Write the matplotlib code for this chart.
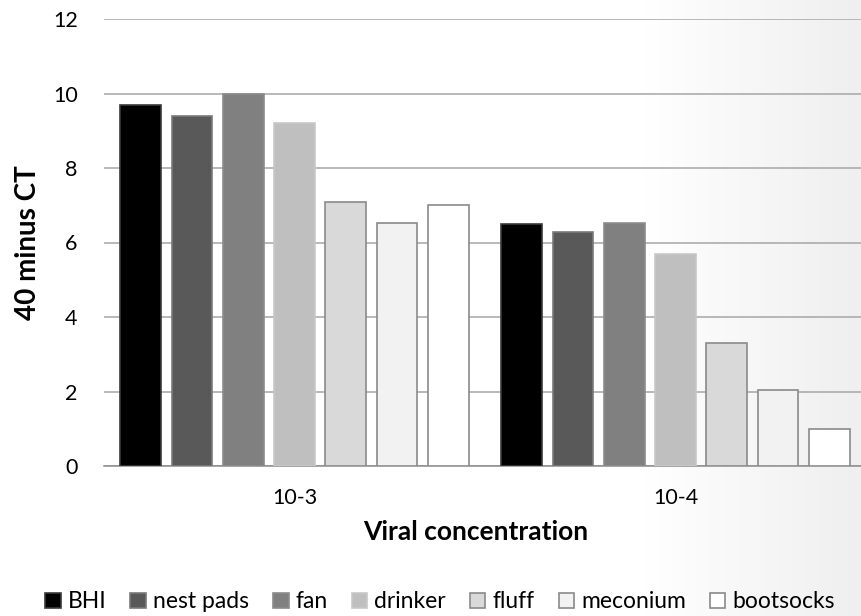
import numpy as np
import matplotlib
matplotlib.use("Agg")
import matplotlib.pyplot as plt

categories = ["10-3", "10-4"]
samples = ["BHI", "nest pads", "fan", "drinker", "fluff", "meconium", "bootsocks"]
bhi = [9.7, 6.5]
nest_pads = [9.4, 6.27]
fan = [10.0, 6.53]
drinker = [9.2, 5.7]
fluff = [7.1, 3.3]
meconium = [6.52, 2.05]
bootsocks = [7.02, 1.0]
series = [bhi, nest_pads, fan, drinker, fluff, meconium, bootsocks]

fills = ["#000000", "#595959", "#808080", "#bfbfbf", "#d9d9d9", "#f2f2f2", "#ffffff"]
edges = ["#3a3a3a", "#7a7a7a", "#8c8c8c", "#c8c8c8", "#8a8a8a", "#8a8a8a", "#8a8a8a"]

plt.rcParams["font.family"] = ["Lato", "DejaVu Sans"]

fig = plt.figure(figsize=(8.61, 6.16), dpi=100)

# soft grey shading towards the right edge, built from thin strips
bg = fig.add_axes([0, 0, 1, 1], zorder=-10)
bg.set_xlim(0, 1)
bg.set_ylim(0, 1)
edges_x = np.linspace(0.74, 1.0, 53)
for x0, x1 in zip(edges_x[:-1], edges_x[1:]):
    level = 1.0 - 0.065 * ((x0 + x1) / 2 - 0.74) / 0.26
    bg.axvspan(x0, x1 + 0.002, color=(level, level, level), lw=0)
bg.axis("off")

ax = fig.add_axes([104 / 861, 1 - 466 / 616, 762 / 861, 447 / 616])
ax.patch.set_alpha(0)

x = np.arange(len(categories))
step = 0.1346
width = 0.107
for i, (name, vals) in enumerate(zip(samples, series)):
    offset = (i - 3) * step
    ax.bar(x + offset, vals, width, color=fills[i], edgecolor=edges[i],
           linewidth=1.2, label=name, zorder=3)

ax.set_xlim(-0.5, 1.5)
ax.set_ylim(0, 12)
ax.set_yticks(range(0, 13, 2))
ax.yaxis.grid(True, color="#a6a6a6", linewidth=1.1, zorder=0)
ax.set_xticks(x)
ax.set_xticklabels(categories)
ax.tick_params(axis="both", length=0, labelsize=15.5, colors="#000000")
ax.tick_params(axis="y", pad=19)
ax.tick_params(axis="x", pad=16)
for side in ["top", "right", "left"]:
    ax.spines[side].set_visible(False)
ax.spines["bottom"].set_color("#8c8c8c")
ax.spines["bottom"].set_linewidth(1.1)

ax.set_ylabel("40 minus CT", fontsize=20, fontweight="bold")
ax.yaxis.set_label_coords((41 - 104) / 762, 0.5)
ax.set_xlabel("Viral concentration", fontsize=19, fontweight="bold")
ax.xaxis.set_label_coords((476 - 104) / 762, (466 - 520) / 447)

fig.legend(loc="center", bbox_to_anchor=(440 / 861, 1 - 602 / 616), ncol=7,
           frameon=False, fontsize=16.5, handlelength=0.68, handleheight=0.68,
           handletextpad=0.3, columnspacing=1.05)

fig.savefig("out.png", dpi=100)
